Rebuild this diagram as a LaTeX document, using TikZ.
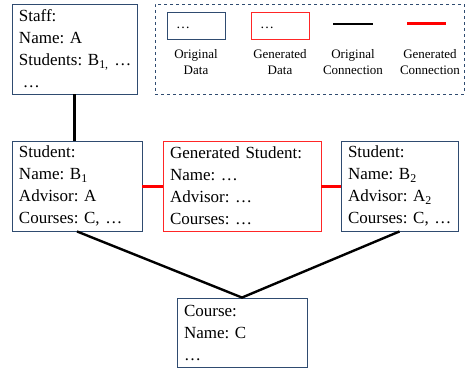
\documentclass[tikz,border=0pt]{standalone}
\usepackage{fontspec}
\setmainfont{Liberation Serif}
\definecolor{navy}{HTML}{2F4B70}
\definecolor{gred}{HTML}{FF0000}
\frenchspacing
\begin{document}
\begin{tikzpicture}[x=1pt,y=-1pt,
  box/.style={draw=navy,line width=0.9pt,inner ysep=0pt,inner xsep=7pt,
    font=\fontsize{17}{22}\selectfont\frenchspacing,align=left},
  genbox/.style={box,draw=gred!85},
  lbox/.style={draw=navy,line width=0.9pt,inner sep=0pt,minimum width=58pt,minimum height=27pt,
    font=\fontsize{14}{16}\selectfont},
  lgenbox/.style={lbox,draw=gred!85},
  ltext/.style={font=\fontsize{13}{16}\selectfont,align=center,inner sep=0pt},
  conn/.style={line width=2.4pt,black},
  genconn/.style={line width=3pt,gred}]
\useasboundingbox (0,0) rectangle (466,369);
% legend
\node[draw=navy,dashed,line width=0.7pt,minimum width=309pt,minimum height=90pt,inner sep=0pt] (legend) at (309.5,49) {};
\node[lbox] (lorig) at (196,25.5) {\raisebox{-7pt}{\hspace{-26pt}…}};
\node[lgenbox] (lgen) at (280,25.5) {\raisebox{-7pt}{\hspace{-26pt}…}};
\coordinate (l1a) at (333,24); \coordinate (l1b) at (373,24);
\coordinate (l2a) at (407,24); \coordinate (l2b) at (446,24);
\draw[conn] (l1a) -- (l1b);
\draw[genconn] (l2a) -- (l2b);
\node[ltext] (t1) at (196,62) {Original\\Data};
\node[ltext] (t2) at (280,62) {Generated\\Data};
\node[ltext] (t3) at (353,62) {Original\\Connection};
\node[ltext] (t4) at (430,62) {Generated\\Connection};
% boxes
\node[box,minimum width=125pt,minimum height=90pt,text width=111pt] (staff) at (74.5,49)
  {\mbox{Staff:}\\\mbox{Name: A}\\\mbox{Students: B\textsubscript{1,} …}\\\mbox{\hspace{4pt}…}};
\node[box,minimum width=130pt,minimum height=90pt,text width=116pt] (b1) at (77,186)
  {\mbox{Student:}\\\mbox{Name: B\textsubscript{1}}\\\mbox{Advisor: A}\\\mbox{Courses: C, …}};
\node[genbox,minimum width=158pt,minimum height=90pt,text width=144pt] (gen) at (242,186)
  {\mbox{Generated Student:}\\\mbox{Name: …}\\\mbox{Advisor: …}\\\mbox{Courses: …}};
\node[box,minimum width=117pt,minimum height=90pt,text width=103pt] (b2) at (399.5,186)
  {\mbox{Student:}\\\mbox{Name: B\textsubscript{2}}\\\mbox{Advisor: A\textsubscript{2}}\\\mbox{Courses: C, …}};
\node[box,minimum width=130pt,minimum height=69pt,text width=116pt] (course) at (242,332.5)
  {\mbox{Course:}\\\mbox{Name: C}\\\mbox{…}};
% connections
\draw[conn] (staff.south) -- (staff.south |- b1.north);
\draw[genconn] (b1.east) -- (gen.west);
\draw[genconn] (gen.east) -- (b2.west);
\draw[conn] (b1.south) -- (course.north) -- (b2.south);
\end{tikzpicture}
\end{document}
